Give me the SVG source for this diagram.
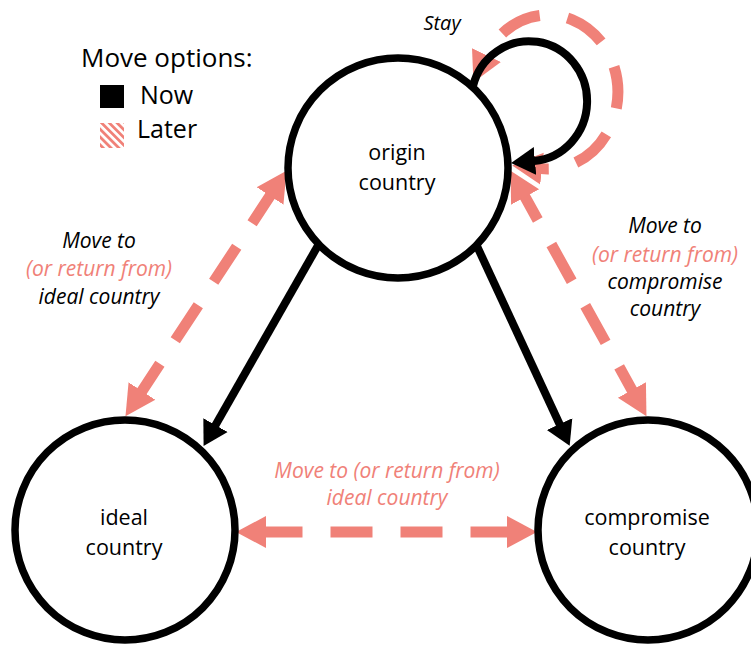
<svg xmlns="http://www.w3.org/2000/svg" width="751" height="646" viewBox="0 0 751 646">
<style>
.node{fill:#fff;stroke:#000;stroke-width:7.5}
.ntxt{font-family:"Open Sans","Liberation Sans",sans-serif;font-size:21.5px;fill:#000;text-anchor:middle}
.lab{font-family:"Open Sans","Liberation Sans",sans-serif;font-size:21px;font-style:italic;text-anchor:middle;fill:#000}
.pk{fill:#F08178}
.leg{font-family:"Open Sans","Liberation Sans",sans-serif;font-size:26px;fill:#000}
.now{fill:none;stroke:#000;stroke-width:8}
.later{fill:none;stroke:#F08178;stroke-width:11;stroke-dasharray:42 28}
</style>
<defs>
<marker id="hb" markerUnits="userSpaceOnUse" markerWidth="26" markerHeight="30" refX="1" refY="15" orient="auto">
<path d="M0,1 L24,15 L0,29 z" fill="#000"/>
</marker>
<marker id="hp" markerUnits="userSpaceOnUse" markerWidth="32" markerHeight="34" refX="1" refY="17" orient="auto-start-reverse">
<path d="M0,1 L30,17 L0,33 z" fill="#F08178"/>
</marker>
<pattern id="hatch" width="5.5" height="5.5" patternUnits="userSpaceOnUse" patternTransform="rotate(-45)">
<rect width="2.8" height="5.5" fill="#F08178"/>
</pattern>
</defs>
<g id="legend">
<text class="leg" x="81" y="67">Move options:</text>
<rect x="100" y="85" width="24" height="23" fill="#000"/>
<text class="leg" x="140" y="104" style="font-size:25px">Now</text>
<rect x="100" y="123" width="24" height="25" fill="url(#hatch)"/>
<text class="leg" x="137" y="138" style="font-size:25px">Later</text>
</g>
<g id="connectors">
<path class="later" d="M486,56 A70 77 0 1 1 541,168.6" style="stroke-dashoffset:42" marker-start="url(#hp)" marker-end="url(#hp)"/>
<path class="now" d="M473,86 A58 60 0 1 1 534,161" marker-end="url(#hb)"/>
<path class="later" d="M270.6,195.1 L141.4,391.9" style="stroke-dashoffset:8.3" marker-start="url(#hp)" marker-end="url(#hp)"/>
<path class="later" d="M524.6,196.2 L632.4,390.8" style="stroke-dashoffset:14.8" marker-start="url(#hp)" marker-end="url(#hp)"/>
<path class="later" d="M265,532 L508,532" style="stroke-dashoffset:4.5" marker-start="url(#hp)" marker-end="url(#hp)"/>
<path class="now" d="M320,242 L215,426" marker-end="url(#hb)"/>
<path class="now" d="M476,244 L560,425" marker-end="url(#hb)"/>
</g>
<g id="origin">
<circle class="node" cx="398" cy="168" r="110"/>
<text class="ntxt" x="397" y="160">origin</text>
<text class="ntxt" x="397" y="190">country</text>
</g>
<g id="ideal">
<circle class="node" cx="125" cy="530" r="110"/>
<text class="ntxt" x="124" y="525">ideal</text>
<text class="ntxt" x="124" y="555">country</text>
</g>
<g id="compromise">
<circle class="node" cx="648" cy="530" r="110"/>
<text class="ntxt" x="647" y="525">compromise</text>
<text class="ntxt" x="647" y="555">country</text>
</g>
<g id="labels">
<text class="lab" x="442" y="30" style="font-size:20px">Stay</text>
<text class="lab" x="99" y="248">Move to</text>
<text class="lab pk" x="99" y="276">(or return from)</text>
<text class="lab" x="99" y="304">ideal country</text>
<text class="lab" x="665" y="233">Move to</text>
<text class="lab pk" x="665" y="262">(or return from)</text>
<text class="lab" x="665" y="289">compromise</text>
<text class="lab" x="665" y="316">country</text>
<text class="lab pk" x="387" y="478">Move to (or return from)</text>
<text class="lab pk" x="387" y="505">ideal country</text>
</g>
</svg>
